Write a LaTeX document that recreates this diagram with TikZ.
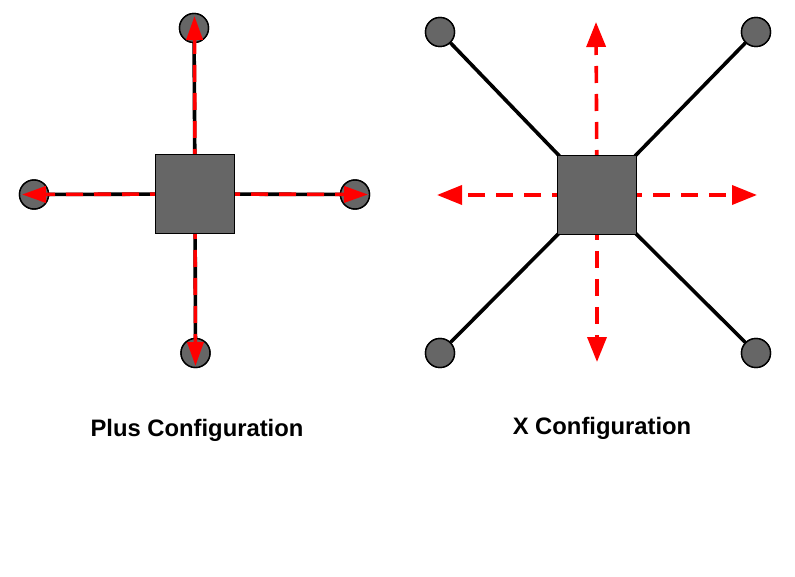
\documentclass[tikz,border=0pt]{standalone}
\usepackage{fontspec}
\setmainfont{Liberation Sans}
\usetikzlibrary{arrows.meta}
\definecolor{body}{HTML}{666666}
\definecolor{arr}{HTML}{FF0000}
\tikzset{
  motor/.style={circle, draw=black, line width=1.4pt, fill=body, minimum size=29pt, inner sep=0pt},
  frame/.style={draw=black, line width=1.4pt, fill=body, minimum size=79pt, inner sep=0pt},
  arm/.style={draw=black, line width=3.6pt},
  thrust/.style={draw=arr, line width=3.6pt, dash pattern=on 17pt off 11pt},
  tipsmall/.style={-{Triangle[length=24pt,width=16pt]}, arr},
  tipbig/.style={-{Triangle[length=25pt,width=19pt]}, arr},
  caption/.style={font=\bfseries\fontsize{23.8}{28}\selectfont, inner sep=0pt}
}
\begin{document}
\begin{tikzpicture}[x=1pt,y=-1pt]
\useasboundingbox (0,0) rectangle (795,577);
% ---------- Plus configuration ----------
\coordinate (pc) at (195,194);
\node[motor] (pt) at (194,28) {};
\node[motor] (pl) at (34,194.5) {};
\node[motor] (pr) at (355,194.5) {};
\node[motor] (pb) at (195.5,353) {};
\draw[arm] (pc) -- (pt);
\draw[arm] (pc) -- (pl);
\draw[arm] (pc) -- (pr);
\draw[arm] (pc) -- (pb);
\node[motor] at (pt) {};
\node[motor] at (pl) {};
\node[motor] at (pr) {};
\node[motor] at (pb) {};
\coordinate (ptt) at (194.5,16);
\coordinate (plt) at (22,194.5);
\coordinate (prt) at (368,194.5);
\coordinate (pbt) at (195.5,366);
\draw[thrust, tipsmall] (pc) -- (ptt);
\draw[thrust, tipsmall] (pc) -- (plt);
\draw[thrust, tipsmall] (pc) -- (prt);
\draw[thrust, tipsmall] (pc) -- (pbt);
\node[frame] (ps) at (pc) {};
\node[caption] (plab) at (197,430) {Plus Configuration};
% ---------- X configuration ----------
\coordinate (xc) at (597,195);
\node[motor] (xtl) at (440,32) {};
\node[motor] (xtr) at (756,32) {};
\node[motor] (xbl) at (440,353) {};
\node[motor] (xbr) at (756,353) {};
\draw[arm] (xc) -- (xtl);
\draw[arm] (xc) -- (xtr);
\draw[arm] (xc) -- (xbl);
\draw[arm] (xc) -- (xbr);
\node[motor] at (xtl) {};
\node[motor] at (xtr) {};
\node[motor] at (xbl) {};
\node[motor] at (xbr) {};
\coordinate (xt) at (596,22);
\coordinate (xl) at (437,195);
\coordinate (xr) at (757,195);
\coordinate (xb) at (597,362);
\draw[thrust, tipbig] (xc) -- (xt);
\draw[thrust, tipbig] (xc) -- (xl);
\draw[thrust, tipbig] (xc) -- (xr);
\draw[thrust, tipbig] (xc) -- (xb);
\node[frame] (xs) at (xc) {};
\node[caption] (xlab) at (602,428) {X Configuration};
\end{tikzpicture}
\end{document}
